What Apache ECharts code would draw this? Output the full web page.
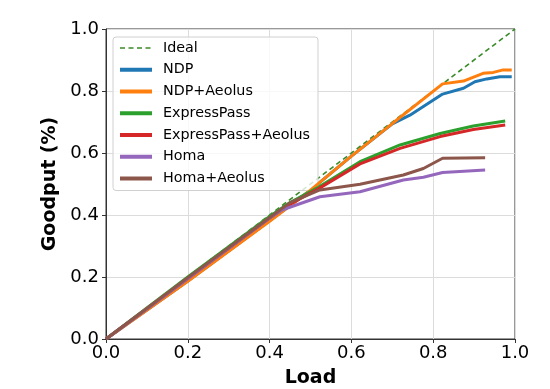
<!DOCTYPE html>
<html><head><meta charset="utf-8">
<script src="https://cdn.jsdelivr.net/npm/echarts@6/dist/echarts.min.js"></script>
<style>html,body{margin:0;padding:0;background:#fff}#c{width:550px;height:389px}</style>
</head><body><div id="c"></div>
<script>
var ideal = [[0,0],[1,1]];
var ndp = [[0,0],[0.2,0.187],[0.4,0.381],[0.5,0.48],[0.6,0.59],[0.7,0.694],[0.743,0.722],[0.823,0.79],[0.874,0.809],[0.902,0.83],[0.931,0.839],[0.963,0.846],[0.992,0.846]];
var ndpAeolus = [[0,0],[0.2,0.186],[0.4,0.38],[0.5,0.48],[0.6,0.59],[0.7,0.695],[0.823,0.823],[0.874,0.832],[0.922,0.857],[0.947,0.86],[0.971,0.868],[0.992,0.868]];
var expressPass = [[0,0],[0.2,0.2],[0.4,0.395],[0.45,0.44],[0.52,0.49],[0.621,0.572],[0.719,0.626],[0.817,0.663],[0.898,0.687],[0.976,0.703]];
var expressPassAeolus = [[0,0],[0.2,0.195],[0.4,0.39],[0.45,0.435],[0.52,0.485],[0.621,0.565],[0.719,0.615],[0.817,0.653],[0.898,0.676],[0.976,0.69]];
var homa = [[0,0],[0.2,0.195],[0.4,0.39],[0.43,0.416],[0.523,0.459],[0.621,0.475],[0.727,0.513],[0.776,0.522],[0.823,0.537],[0.927,0.545]];
var homaAeolus = [[0,0],[0.2,0.198],[0.4,0.392],[0.45,0.44],[0.523,0.481],[0.621,0.499],[0.727,0.529],[0.776,0.55],[0.823,0.583],[0.927,0.585]];
var names = ['Ideal','NDP','NDP+Aeolus','ExpressPass','ExpressPass+Aeolus','Homa','Homa+Aeolus'];
var datasets = [ideal, ndp, ndpAeolus, expressPass, expressPassAeolus, homa, homaAeolus];
var colors = ['#3a8a28','#1f77b4','#ff7f0e','#2ca02c','#d62728','#9467bd','#8c564b'];

var chart = echarts.init(document.getElementById('c'), null, {renderer:'canvas'});
var series = names.map(function(n,i){
  return {
    name:n, type:'line', data:datasets[i], symbol:'none', silent:true, animation:false,
    lineStyle:{color:colors[i], width: i===0?1.6:3, type: i===0?[5,3.5]:'solid'},
    itemStyle:{color:colors[i]}, z: 2+i
  };
});
var font = 'DejaVu Sans';
chart.setOption({
  animation:false,
  grid:{left:106,right:35,top:29,bottom:50,containLabel:false,outerBoundsMode:'none',show:true,borderColor:'#333',borderWidth:1,backgroundColor:'transparent'},
  legend:{
    data:names.map(function(n,i){return {name:n, itemStyle:{color:colors[i], opacity:0}, lineStyle:{color:colors[i], width:i===0?1.6:4, type:i===0?[5,3.5]:'solid'}};}),
    orient:'vertical', left:113, top:37, itemWidth:32, itemHeight:14, itemGap:7.75,
    padding:[4,8,5,5], backgroundColor:'rgba(255,255,255,0.8)', borderColor:'#d0d0d0', borderWidth:1, borderRadius:3,
    textStyle:{fontFamily:font, fontSize:14.3, color:'#000', padding:[0,0,0,6]}
  },
  xAxis:{
    type:'value', min:0, max:1, interval:0.2, name:'Load', nameLocation:'middle', nameGap:30,
    nameTextStyle:{fontFamily:font, fontSize:19, fontWeight:'bold', color:'#000'},
    axisLine:{show:true, onZero:false, lineStyle:{color:'#333', width:1}},
    axisTick:{show:true, inside:false, length:4, lineStyle:{color:'#333'}},
    axisLabel:{fontFamily:font, fontSize:18, color:'#000', margin:5, formatter:function(v){return v.toFixed(1);}},
    splitLine:{show:true, lineStyle:{color:'#dcdcdc', width:1}}
  },
  yAxis:{
    type:'value', min:0, max:1, interval:0.2, name:'Goodput (%)', nameLocation:'middle', nameGap:37,
    nameTextStyle:{fontFamily:font, fontSize:19, fontWeight:'bold', color:'#000'},
    axisLine:{show:true, onZero:false, lineStyle:{color:'#333', width:1}},
    axisTick:{show:true, inside:false, length:4, lineStyle:{color:'#333'}},
    axisLabel:{fontFamily:font, fontSize:18, color:'#000', margin:7, formatter:function(v){return v.toFixed(1);}},
    splitLine:{show:true, lineStyle:{color:'#dcdcdc', width:1}}
  },
  series:series
});
</script></body></html>
